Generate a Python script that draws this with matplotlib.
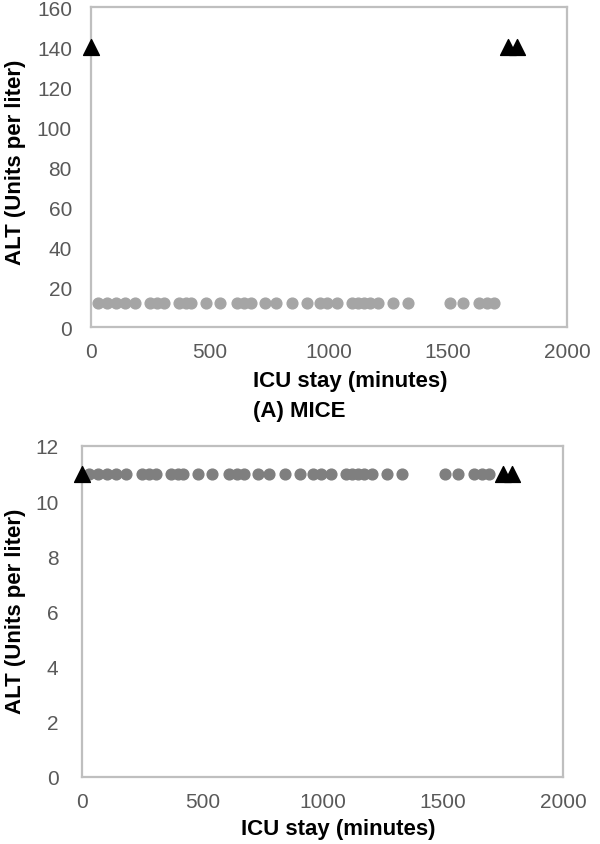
import matplotlib.pyplot as plt

plt.rcParams['font.family'] = ['Liberation Sans', 'DejaVu Sans']

# ICU stay (minutes) of the regular points
stay_dots = [29, 67, 105, 143, 185, 248, 277, 307, 370, 399, 420, 483, 542,
             613, 643, 672, 731, 777, 845, 908, 962, 992, 1034, 1097, 1122,
             1147, 1172, 1206, 1269, 1332, 1508, 1563, 1630, 1664, 1693]
# outlier points (triangles)
stay_tri = [0, 1752, 1790]
alt_tri_a = [140, 140, 140]
alt_tri_b = [11, 11, 11]
# imputed ALT value of the regular points
alt_dots_a = [12] * len(stay_dots)
alt_dots_b = [11] * len(stay_dots)

x_ticks = [0, 500, 1000, 1500, 2000]
y_ticks_a = [0, 20, 40, 60, 80, 100, 120, 140, 160]
y_ticks_b = [0, 2, 4, 6, 8, 10, 12]

W, H = 600, 845
fig = plt.figure(figsize=(6, 8.45), dpi=100)


def style(ax, yticks, ypad):
    ax.set_xlim(0, 2000)
    ax.set_xticks(x_ticks)
    ax.set_ylim(yticks[0], yticks[-1])
    ax.set_yticks(yticks)
    for s in ax.spines.values():
        s.set_color('#bfbfbf')
        s.set_linewidth(1.6)
    ax.tick_params(axis='x', length=0, pad=11, labelsize=15, labelcolor='#595959')
    ax.tick_params(axis='y', length=0, pad=ypad, labelsize=15, labelcolor='#595959')


# (A) MICE
ax1 = fig.add_axes([91 / W, 1 - 328 / H, (567 - 91) / W, (328 - 8) / H])
ax1.scatter(stay_dots, alt_dots_a, s=60, color='#a5a5a5', zorder=3, clip_on=False)
ax1.scatter(stay_tri, alt_tri_a, s=130, marker='^', color='black', zorder=4,
            clip_on=False)
style(ax1, y_ticks_a, 13.7)

# second panel
ax2 = fig.add_axes([82 / W, 1 - 778 / H, (563 - 82) / W, (778 - 447) / H])
ax2.scatter(stay_dots, alt_dots_b, s=60, color='#7f7f7f', zorder=3, clip_on=False)
ax2.scatter(stay_tri, alt_tri_b, s=130, marker='^', color='black', zorder=4,
            clip_on=False)
style(ax2, y_ticks_b, 17)

lab = dict(fontsize=16, fontweight='bold')
fig.text(16 / W, 1 - 162 / H, 'ALT (Units per liter)', rotation=90,
         ha='center', va='center', **lab)
fig.text(16 / W, 1 - 611 / H, 'ALT (Units per liter)', rotation=90,
         ha='center', va='center', **lab)
fig.text(253 / W, 1 - 382 / H, 'ICU stay (minutes)', ha='left', va='center', **lab)
fig.text(253 / W, 1 - 412 / H, '(A) MICE', ha='left', va='center', **lab)
fig.text(241 / W, 1 - 830 / H, 'ICU stay (minutes)', ha='left', va='center', **lab)

fig.savefig('out.png', dpi=100)
